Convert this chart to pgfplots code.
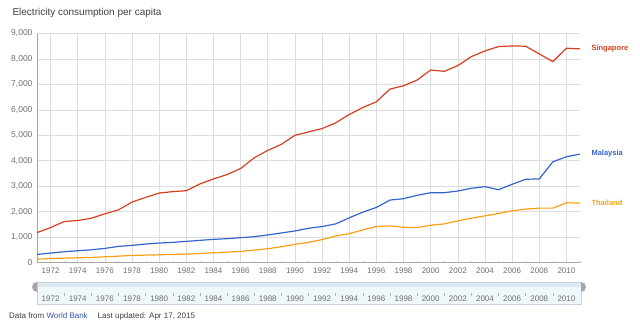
\documentclass[border=0pt]{standalone}
\usepackage{pgfplots}
\pgfplotsset{compat=1.18}
\usepackage{fontspec}
\setmainfont{Liberation Sans}
\definecolor{sgred}{RGB}{214,64,30}
\definecolor{myblue}{RGB}{51,102,204}
\definecolor{thor}{RGB}{250,160,20}
\definecolor{gridc}{RGB}{221,221,221}
\definecolor{ticktxt}{RGB}{110,110,110}
\definecolor{linkblue}{RGB}{51,85,170}
\definecolor{slfill}{RGB}{240,247,251}
\definecolor{slstrip}{RGB}{222,233,240}
\definecolor{slborder}{RGB}{200,210,218}
\begin{document}
\begin{tikzpicture}[x=1pt,y=1pt]
\path[use as bounding box] (0,0) rectangle (640,325);
\begin{axis}[
  at={(37pt,62.5pt)}, anchor=south west,
  scale only axis, width=543pt, height=229pt,
  xmin=1971, xmax=2011, ymin=0, ymax=9000,
  xtick={1972,1974,...,2010},
  minor xtick={1971,1973,...,2011},
  ytick={0,1000,...,9000},
  grid=major, grid style={gridc, line width=0.6pt},
  axis x line*=bottom, axis y line*=left,
  axis line style={gray!70, line width=0.6pt},
  x axis line style={-}, y axis line style={-},
  major tick length=0pt, minor tick length=2pt,
  minor tick style={gray!40},
  xticklabel style={font=\fontsize{8}{8}\selectfont, color=ticktxt, yshift=-2pt},
  yticklabel style={font=\fontsize{8.5}{8.5}\selectfont, color=ticktxt, xshift=-1pt},
  x tick label style={/pgf/number format/.cd, 1000 sep={}},
  y tick label style={/pgf/number format/.cd, 1000 sep={,}},
  /pgf/number format/assume math mode=true,
  clip=false,
]
\addplot[sgred, line width=1.2pt] coordinates {
(1971,1174) (1972,1372) (1973,1610) (1974,1650) (1975,1740) (1976,1913) (1977,2070)
(1978,2375) (1979,2560) (1980,2730) (1981,2785) (1982,2823) (1983,3087) (1984,3285)
(1985,3456) (1986,3694) (1987,4116) (1988,4406) (1989,4644) (1990,5000) (1991,5130)
(1992,5263) (1993,5487) (1994,5816) (1995,6092) (1996,6316) (1997,6816) (1998,6947)
(1999,7171) (2000,7566) (2001,7513) (2002,7737) (2003,8092) (2004,8316) (2005,8487)
(2006,8513) (2007,8500) (2008,8197) (2009,7895) (2010,8421) (2011,8395)};
\addplot[myblue, line width=1.2pt] coordinates {
(1971,317) (1972,370) (1973,422) (1974,462) (1975,500) (1976,554) (1977,633)
(1978,673) (1979,726) (1980,765) (1981,792) (1982,831) (1983,870) (1984,910)
(1985,937) (1986,976) (1987,1016) (1988,1082) (1989,1161) (1990,1240) (1991,1346)
(1992,1412) (1993,1517) (1994,1755) (1995,1979) (1996,2164) (1997,2454) (1998,2507)
(1999,2639) (2000,2744) (2001,2744) (2002,2810) (2003,2916) (2004,2982) (2005,2863)
(2006,3074) (2007,3272) (2008,3285) (2009,3958) (2010,4156) (2011,4261)};
\addplot[thor, line width=1.2pt] coordinates {
(1971,132) (1972,158) (1973,171) (1974,185) (1975,198) (1976,224) (1977,251)
(1978,277) (1979,290) (1980,303) (1981,317) (1982,330) (1983,356) (1984,383)
(1985,409) (1986,435) (1987,488) (1988,541) (1989,620) (1990,712) (1991,792)
(1992,900) (1993,1042) (1994,1135) (1995,1280) (1996,1412) (1997,1438) (1998,1385)
(1999,1372) (2000,1464) (2001,1517) (2002,1636) (2003,1741) (2004,1834) (2005,1926)
(2006,2032) (2007,2098) (2008,2137) (2009,2137) (2010,2348) (2011,2335)};
\end{axis}
% title
\node[anchor=west, font=\fontsize{10}{10}\selectfont, text=black!75] at (9,312) {Electricity consumption per capita};
% series labels
\node[anchor=west, font=\bfseries\fontsize{7.5}{7.5}\selectfont, text=sgred] at (588,276) {Singapore};
\node[anchor=west, font=\bfseries\fontsize{7.5}{7.5}\selectfont, text=myblue] at (588,171) {Malaysia};
\node[anchor=west, font=\bfseries\fontsize{7.5}{7.5}\selectfont, text=thor] at (588,122) {Thailand};
% range slider
\fill[slfill] (37,21) rectangle (581,43);
\fill[slstrip] (37,38) rectangle (581,43);
\draw[slborder, line width=0.5pt] (37,21) rectangle (581,43);
\foreach \yr in {1972,1974,...,2010}
  \node[font=\fontsize{8}{8}\selectfont, text=ticktxt] at ({37+(\yr-1971)*13.575},26) {\yr};
\foreach \yr in {1973,1975,...,2009}
  \draw[gray!60, line width=0.5pt] ({37+(\yr-1971)*13.575},29.5) -- ({37+(\yr-1971)*13.575},32);
\fill[gray!70] (37,33) -- (37,43) arc[start angle=90, end angle=270, x radius=5, y radius=5] -- cycle;
\fill[gray!70] (581,33) -- (581,43) arc[start angle=90, end angle=-90, x radius=5, y radius=5] -- cycle;
% footer
\node[anchor=west, font=\fontsize{8}{8}\selectfont, inner sep=0pt] at (9,9) {\textcolor{black!75}{Data from} \textcolor{linkblue}{World Bank}\hspace{10pt}\textcolor{black!75}{Last updated: Apr 17, 2015}};
\end{tikzpicture}
\end{document}
